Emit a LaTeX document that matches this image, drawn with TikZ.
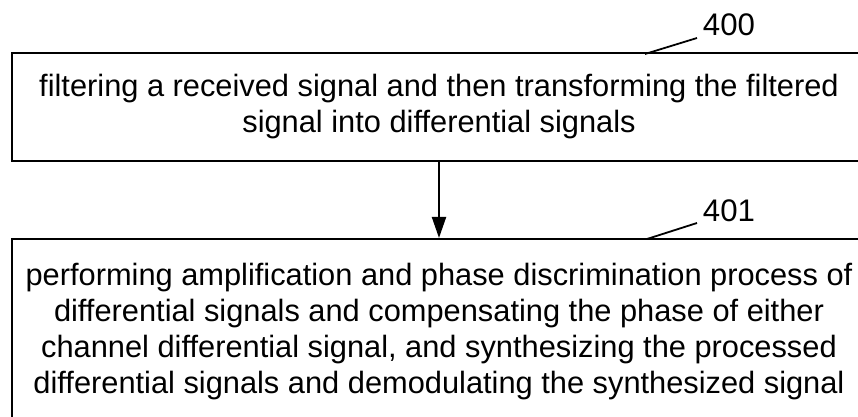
\documentclass[tikz,border=0pt]{standalone}
\usepackage{fontspec}
\setmainfont[Ligatures={NoCommon}]{Liberation Sans}
\usetikzlibrary{arrows.meta}
\begin{document}
\begin{tikzpicture}[x=0.5pt,y=-0.5pt,
  box/.style={draw, line width=1pt, minimum width=427pt, inner sep=0pt, align=center,
    font=\fontsize{15.4pt}{18pt}\selectfont},
  reflabel/.style={font=\fontsize{15.6pt}{18pt}\selectfont, inner sep=0pt},
  leader/.style={line width=0.9pt},
  flow/.style={line width=1pt, -{Triangle[length=10.5pt,width=7pt]}}]
\useasboundingbox (0,0) rectangle (858,417);
\node[box, minimum height=54pt] (b1) at (439,107)
  {filtering a received signal and then transforming the filtered\\signal into differential signals};
\node[box, minimum height=93pt] (b2) at (439,332)
  {performing amplification and phase discrimination process of\\differential signals and compensating the phase of either\\channel differential signal, and synthesizing the processed\\differential signals and demodulating the synthesized signal};
\draw[flow] (b1.south) -- (b2.north);
\node[reflabel] (l400) at (729,25) {400};
\node[reflabel] (l401) at (729,211) {401};
\coordinate (p400) at (645,54);
\coordinate (q400) at (697,38);
\coordinate (p401) at (647,239);
\coordinate (q401) at (697,223);
\draw[leader] (p400) -- (q400);
\draw[leader] (p401) -- (q401);
\end{tikzpicture}
\end{document}
